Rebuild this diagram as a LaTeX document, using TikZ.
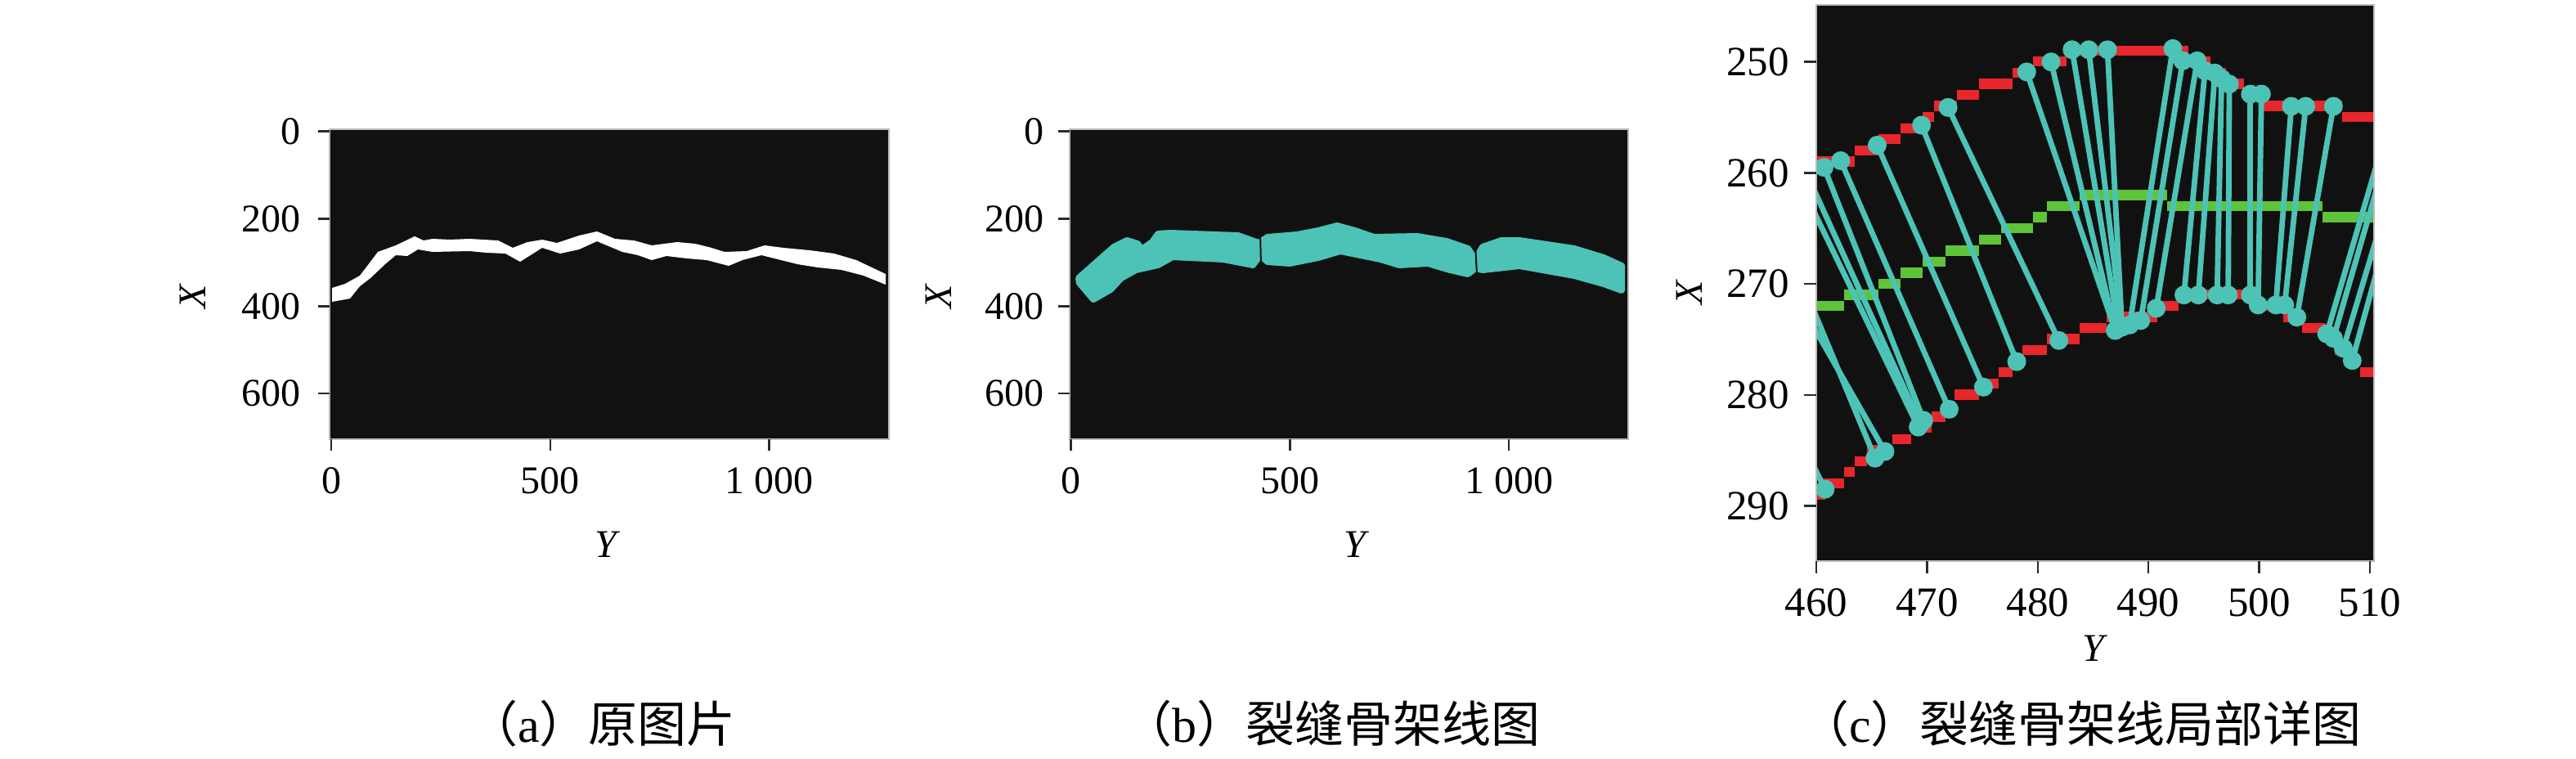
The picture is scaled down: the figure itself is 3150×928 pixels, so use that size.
\documentclass[tikz,border=0pt]{standalone}
\usepackage{fontspec}
\setmainfont{Liberation Serif}
\newfontfamily\cjk{Noto Sans CJK SC}
\definecolor{plotbg}{HTML}{111111}
\definecolor{tealc}{HTML}{4CC3B6}
\definecolor{redpx}{HTML}{E8262B}
\definecolor{grnpx}{HTML}{5EC43A}
\definecolor{spinec}{HTML}{BBBBBB}
\definecolor{tickc}{HTML}{2A2A2A}
\tikzset{
  tickf/.style={font=\fontsize{48}{50}\selectfont, inner sep=0pt, text=black},
  tickfc/.style={font=\fontsize{51}{53}\selectfont, inner sep=0pt, text=black},
  axlab/.style={font=\fontsize{48}{50}\selectfont\itshape, inner sep=0pt, text=black},
  capt/.style={font=\fontsize{60}{62}\selectfont, inner sep=0pt, anchor=base west, text=black},
  tk/.style={draw=tickc, line width=2.5pt},
  frameline/.style={draw=spinec, line width=1.5pt},
  tline/.style={draw=tealc, line width=6.8pt, line cap=round},
  dotc/.style={fill=tealc},
  redrow/.style={fill=redpx},
  grnrow/.style={fill=grnpx}
}
\begin{document}
\begin{tikzpicture}[x=1pt,y=-1pt]
\useasboundingbox (0,0) rectangle (3150,928);
\fill[white] (0,0) rectangle (3150,928);

% ---------------- panel (a) ----------------
\fill[plotbg] (403,158) rectangle (1087,537);
\fill[white] (406,352) -- (422,347) -- (440,337) -- (453,320) -- (462,308) -- (484,300) -- (507,289) -- (518,294) -- (529,292) -- (550,293) -- (574,292) -- (609,294) -- (627,303) -- (645,296) -- (663,293) -- (681,297) -- (708,288) -- (730,283) -- (752,292) -- (775,294) -- (797,300) -- (828,296) -- (850,298) -- (870,303) -- (886,308) -- (913,307) -- (935,300) -- (958,303) -- (990,306) -- (1020,310) -- (1047,318) -- (1083,335)
 -- (1083,348) -- (1056,337) -- (1029,330) -- (1000,327) -- (975,323) -- (931,312) -- (908,318) -- (891,325) -- (864,318) -- (840,316) -- (815,313) -- (797,318) -- (780,312) -- (761,308) -- (730,295) -- (708,305) -- (685,310) -- (663,303) -- (636,320) -- (618,310) -- (595,309) -- (574,307) -- (529,308) -- (511,305) -- (498,313) -- (484,312) -- (471,323) -- (453,340) -- (440,350) -- (428,365) -- (406,369) -- cycle;
\draw[frameline] (403,158) rectangle (1087,537);
\foreach \v/\lab [count=\i] in {0/0,500/500,1000/1\kern0.25em000} {
  \pgfmathsetmacro\xx{405+0.5355*\v}
  \draw[tk] (\xx,537) -- (\xx,551);
  \node[tickf] (aY\i) at (\xx,588) {\lab};
}
\foreach \v [count=\i] in {0,200,400,600} {
  \pgfmathsetmacro\yy{160.5+0.5345*\v}
  \draw[tk] (389,\yy) -- (403,\yy);
  \node[tickf, anchor=east] (aX\i) at (368,\yy) {\v};
}
\node[axlab, rotate=90] (aXlab) at (236,363) {X};
\node[axlab] (aYlab) at (741,666) {Y};
\node[capt] (capa) at (573,907) {{\cjk （}a{\cjk ）原图片}};

% ---------------- panel (b) ----------------
\fill[plotbg] (1308,158) rectangle (1991,537);
\filldraw[fill=tealc, draw=tealc, line width=8pt, line join=round]
 (1319,340) -- (1345,317) -- (1362,302) -- (1378,294) -- (1391,298) -- (1396,305) -- (1409,296) -- (1416,286) -- (1430,285) -- (1514,288) -- (1539,297) -- (1550,290) -- (1586,287) -- (1612,282) -- (1635,276) -- (1657,282) -- (1680,290) -- (1733,289) -- (1769,295) -- (1795,304) -- (1804,317) -- (1813,302) -- (1836,294) -- (1858,294) -- (1925,304) -- (1961,315) -- (1983,325)
 -- (1983,355) -- (1961,347) -- (1925,337) -- (1858,325) -- (1813,330) -- (1804,328) -- (1795,335) -- (1773,330) -- (1746,322) -- (1711,324) -- (1688,317) -- (1639,307) -- (1612,315) -- (1577,322) -- (1550,320) -- (1541,312) -- (1532,324) -- (1496,317) -- (1434,314) -- (1416,324) -- (1389,330) -- (1371,340) -- (1358,354) -- (1337,366) -- (1320,346) -- cycle;
\draw[plotbg, line width=2pt] (1541,286) -- (1542,324);
\draw[plotbg, line width=2pt] (1804,298) -- (1806,336);
\draw[frameline] (1308,158) rectangle (1991,537);
\foreach \v/\lab [count=\i] in {0/0,500/500,1000/1\kern0.25em000} {
  \pgfmathsetmacro\xx{1309.6+0.5355*\v}
  \draw[tk] (\xx,537) -- (\xx,551);
  \node[tickf] (bY\i) at (\xx,588) {\lab};
}
\foreach \v [count=\i] in {0,200,400,600} {
  \pgfmathsetmacro\yy{160.5+0.5345*\v}
  \draw[tk] (1294,\yy) -- (1308,\yy);
  \node[tickf, anchor=east] (bX\i) at (1277,\yy) {\v};
}
\node[axlab, rotate=90] (bXlab) at (1148,363) {X};
\node[axlab] (bYlab) at (1657,666) {Y};
\node[capt] (capb) at (1373,907) {{\cjk （}b{\cjk ）裂缝骨架线图}};

% ---------------- panel (c) ----------------
\fill[plotbg] (2221,6) rectangle (2903,686);
\begin{scope}[x=13.54pt, y=-13.57pt, xshift=-4007.4pt, yshift=3316.8pt]
  \clip (460,244.86) rectangle (510.37,294.97);
  % red boundary pixels (upper)
  \foreach \a/\b/\r in {459/463.5/259, 463.5/465.6/258, 465.6/467.6/257, 467.6/469.6/256, 469.6/470.6/255, 470.6/472.7/254, 472.7/474.7/253, 474.7/477.7/252, 477.7/479.6/251, 479.6/482.6/250, 482.6/493.6/249, 493.6/495.6/250, 495.6/497/251, 497/498.6/252, 498.6/500.4/253, 500.4/507.5/254, 507.5/511/255}
    {\fill[redrow] (\a,\r-0.48) rectangle (\b,\r+0.42);}
  % red boundary pixels (lower)
  \foreach \a/\b/\r in {459/460.8/289, 460.3/462.5/288, 462.5/463.5/287, 463.5/464.6/286, 464.6/466.9/285, 466.9/468.6/284, 468.6/470.4/283, 470.4/471.7/282, 471.7/472.5/281, 472.5/474.7/280, 474.7/476.5/279, 476.5/477.7/278, 477.7/478.6/277, 478.6/480.8/276, 480.8/483.8/275, 483.8/486.2/274, 486.2/490.8/273, 490.8/492.7/272, 492.7/499.3/271, 499.3/502.2/272, 502.2/503.9/273, 503.9/506/274, 506/506.8/275, 506.8/507.7/276, 507.7/509.1/277, 509.1/511/278}
    {\fill[redrow] (\a,\r-0.48) rectangle (\b,\r+0.42);}
  % green skeleton pixels
  \foreach \a/\b/\r in {459/462.5/272, 462.5/465.6/271, 465.6/467.6/270, 467.6/469.6/269, 469.6/471.7/268, 471.7/474.7/267, 474.7/476.7/266, 476.7/479.6/265, 479.6/480.8/264, 480.8/483.8/263, 483.8/491.7/262, 491.7/505.7/263, 505.7/511/264}
    {\fill[grnrow] (\a,\r-0.46) rectangle (\b,\r+0.46);}
  % upper edge points
  \coordinate (u1) at (460.7,259.5);
  \coordinate (u2) at (462.2,258.9);
  \coordinate (u3) at (465.5,257.5);
  \coordinate (u4) at (469.5,255.7);
  \coordinate (u5) at (471.9,254.1);
  \coordinate (u6) at (479.0,250.9);
  \coordinate (u7) at (481.2,250.0);
  \coordinate (u8) at (483.1,248.9);
  \coordinate (u9) at (484.6,248.9);
  \coordinate (u10) at (486.3,248.9);
  \coordinate (u11) at (492.2,248.8);
  \coordinate (u12) at (493.1,249.9);
  \coordinate (u13) at (494.4,249.9);
  \coordinate (u14) at (495.1,250.8);
  \coordinate (u15) at (496.0,251.0);
  \coordinate (u16) at (496.6,251.5);
  \coordinate (u17) at (497.3,252.0);
  \coordinate (u18) at (499.2,252.9);
  \coordinate (u19) at (500.2,252.9);
  \coordinate (u20) at (502.9,254.0);
  \coordinate (u21) at (504.2,254.0);
  \coordinate (u22) at (506.7,254.0);
  % ends outside the view
  \coordinate (e1) at (459.6,261.1);
  \coordinate (e2) at (459.6,263.1);
  \coordinate (e3) at (459.6,272.0);
  \coordinate (e4) at (459.6,273.6);
  \coordinate (e5) at (459.6,286.1);
  \coordinate (r1) at (510.8,258.6);
  \coordinate (r2) at (510.8,260.8);
  \coordinate (r3) at (510.8,265.2);
  \coordinate (r4) at (510.8,268.2);
  % lower edge points
  \coordinate (l1) at (460.8,288.5);
  \coordinate (l2) at (465.3,285.7);
  \coordinate (l3) at (466.2,285.1);
  \coordinate (l4) at (469.4,282.6);
  \coordinate (l5) at (469.7,282.3);
  \coordinate (l6) at (469.2,282.9);
  \coordinate (l7) at (472.0,281.3);
  \coordinate (l8) at (475.1,279.3);
  \coordinate (l9) at (478.1,277.0);
  \coordinate (l10) at (481.9,275.1);
  \coordinate (c1) at (487.0,274.2);
  \coordinate (c2) at (487.3,274.0);
  \coordinate (c3) at (487.6,273.9);
  \coordinate (c4) at (488.3,273.7);
  \coordinate (c5) at (489.3,273.3);
  \coordinate (c6) at (490.7,272.2);
  \coordinate (m1) at (493.2,271.0);
  \coordinate (m2) at (494.5,271.0);
  \coordinate (m3) at (496.2,271.0);
  \coordinate (m4) at (497.2,271.0);
  \coordinate (m5) at (499.2,271.0);
  \coordinate (n1) at (499.9,271.9);
  \coordinate (n2) at (501.5,271.9);
  \coordinate (n3) at (502.3,271.9);
  \coordinate (n4) at (503.4,273.0);
  \coordinate (q1) at (506.1,274.5);
  \coordinate (q2) at (506.7,274.9);
  \coordinate (q3) at (507.6,275.8);
  \coordinate (q4) at (508.4,276.9);
  % connectors
  \foreach \p/\q in {u1/l5, e1/l4, e2/l6, e3/l2, e4/l3, e5/l1, u2/l7, u3/l8, u4/l9, u5/l10,
    u6/c1, u7/c1, u8/c2, u9/c3, u10/c3, u11/c4, u12/c5, u13/c6,
    u14/m1, u15/m2, u16/m3, u17/m4, u18/m5, u19/n1, u20/n2, u21/n3, u22/n4,
    r1/q1, r2/q2, r3/q3, r4/q4}
    {\draw[tline] (\p) -- (\q);}
  \foreach \n in {u1,u2,u3,u4,u5,u6,u7,u8,u9,u10,u11,u12,u13,u14,u15,u16,u17,u18,u19,u20,u21,u22,
    l1,l2,l3,l4,l5,l6,l7,l8,l9,l10,c1,c2,c3,c4,c5,c6,m1,m2,m3,m4,m5,n1,n2,n3,n4,q1,q2,q3,q4}
    {\fill[dotc] (\n) circle[radius=11.5pt];}
\end{scope}
\draw[frameline] (2221,6) rectangle (2903,686);
\foreach \v [count=\i] in {460,470,...,510} {
  \pgfmathsetmacro\xx{2221+13.54*(\v-460)}
  \draw[tk] (\xx,686) -- (\xx,701);
  \node[tickfc] (cY\i) at (\xx,737) {\v};
}
\foreach \v [count=\i] in {250,260,...,290} {
  \pgfmathsetmacro\yy{75.7+13.57*(\v-250)}
  \draw[tk] (2206,\yy) -- (2221,\yy);
  \node[tickfc, anchor=east] (cX\i) at (2188,\yy) {\v};
}
\node[axlab, rotate=90] (cXlab) at (2066,358) {X};
\node[axlab] (cYlab) at (2560,793) {Y};
\node[capt] (capc) at (2201,907) {{\cjk （}c{\cjk ）裂缝骨架线局部详图}};
\end{tikzpicture}
\end{document}
